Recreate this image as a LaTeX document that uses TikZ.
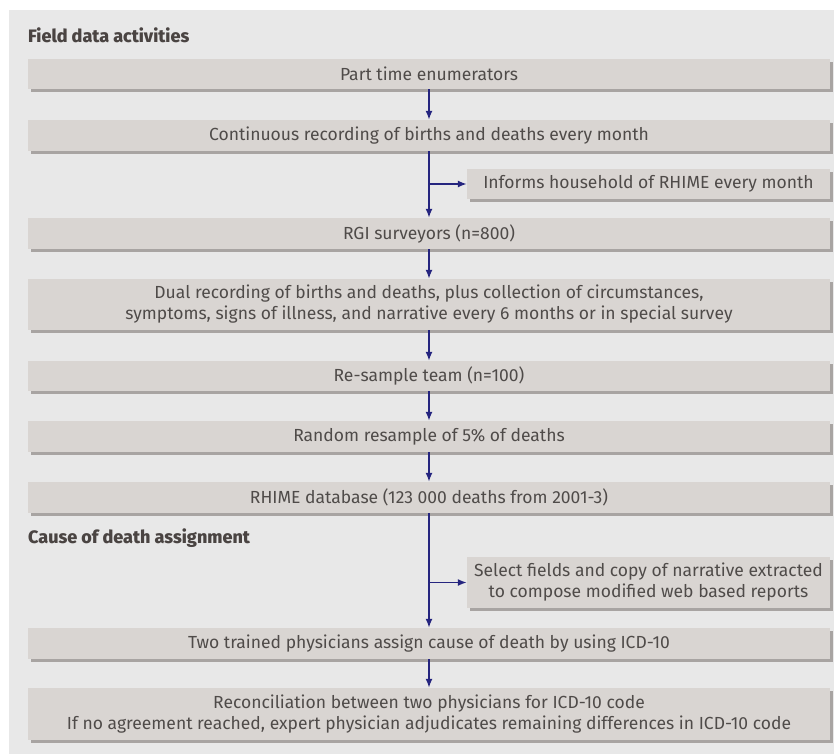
\documentclass[tikz,border=0pt]{standalone}
\usepackage{fontspec}
\setmainfont{Fira Sans}
\newfontfamily\headfont{Fira Sans ExtraBold}
\usetikzlibrary{arrows.meta,shadows}
\definecolor{panel}{HTML}{E8E8E8}
\definecolor{boxfill}{HTML}{D9D5D2}
\definecolor{shadowc}{HTML}{A8A4A2}
\definecolor{txt}{HTML}{4F4B49}
\definecolor{head}{HTML}{4A4442}
\definecolor{arrowc}{HTML}{25257F}
\begin{document}
\begin{tikzpicture}[x=1pt,y=-1pt,
  boxstyle/.style={fill=boxfill,draw=none,inner sep=0pt,align=center,
    text=txt,font=\fontsize{17.5}{21}\selectfont,
    drop shadow={shadow xshift=3pt,shadow yshift=-3pt,fill=shadowc,opacity=1}},
  mainbox/.style={boxstyle,minimum width=802pt},
  sidebox/.style={boxstyle,minimum width=363pt},
  heading/.style={anchor=base west,inner sep=0pt,text=head,
    font=\fontsize{18}{20}\headfont},
  arr/.style={draw=arrowc,line width=1.5pt,-{Latex[length=9pt,width=7pt]}}]
\useasboundingbox (0,0) rectangle (838,754);
\fill[panel] (9,10) rectangle (834,754);
\node[heading] (h1) at (28,43) {Field data activities};
\node[mainbox,minimum height=30pt] (b1) at (429,74) {Part time enumerators};
\node[mainbox,minimum height=31pt] (b2) at (429,135.5) {Continuous recording of births and deaths every month};
\node[sidebox,minimum height=30pt] (b3) at (648.5,184) {Informs household of RHIME every month};
\node[mainbox,minimum height=31pt] (b4) at (429,233.5) {RGI surveyors (n=800)};
\node[mainbox,minimum height=51pt] (b5) at (429,304.5) {Dual recording of births and deaths, plus collection of circumstances,\\symptoms, signs of illness, and narrative every 6 months or in special survey};
\node[mainbox,minimum height=30pt] (b6) at (429,376) {Re-sample team (n=100)};
\node[mainbox,minimum height=31pt] (b7) at (429,436.5) {Random resample of 5\% of deaths};
\node[mainbox,minimum height=31pt] (b8) at (429,497.5) {RHIME database (123 000 deaths from 2001-3)};
\node[heading] (h2) at (28,543) {Cause of death assignment};
\node[sidebox,minimum height=51pt] (b9) at (648.5,582.5) {Select fields and copy of narrative extracted\\to compose modified web based reports};
\node[mainbox,minimum height=31pt] (b10) at (429,643.5) {Two trained physicians assign cause of death by using ICD-10};
\node[mainbox,minimum height=52pt] (b11) at (429,714) {Reconciliation between two physicians for ICD-10 code\\If no agreement reached, expert physician adjudicates remaining differences in ICD-10 code};
\draw[arr] (b1.south) -- (b2.north);
\draw[arr] (b2.south) -- (b4.north);
\draw[arr] (b2.south |- b3.west) -- (b3.west);
\draw[arr] (b4.south) -- (b5.north);
\draw[arr] (b5.south) -- (b6.north);
\draw[arr] (b6.south) -- (b7.north);
\draw[arr] (b7.south) -- (b8.north);
\draw[arr] (b8.south) -- (b10.north);
\draw[arr] (b8.south |- b9.west) -- (b9.west);
\draw[arr] (b10.south) -- (b11.north);
\end{tikzpicture}
\end{document}
